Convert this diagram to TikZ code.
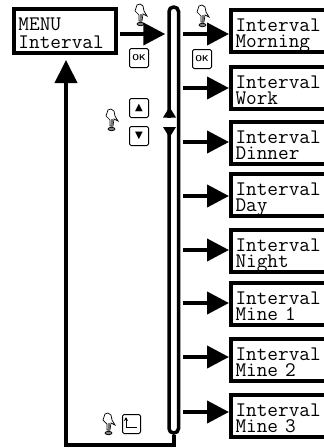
\documentclass[tikz,border=0pt]{standalone}
\usepackage{fontspec}
\newfontfamily\symfont{DejaVu Sans}
\usetikzlibrary{arrows.meta,positioning}
\tikzset{
	lcdbox/.style={draw,line width=4pt,inner xsep=4.5pt,inner ysep=0pt,minimum height=42pt,align=left,text width=91pt,font=\ttfamily\fontsize{20.7}{16}\selectfont,anchor=north west,execute at begin node={\rule{0pt}{21pt}},execute at end node={\rule[-5pt]{0pt}{5pt}}},
	feed/.style={line width=4pt,-{Triangle[length=22pt,width=22pt]}},
	keybox/.style={draw,rounded corners=1.5pt,line width=1pt,minimum width=19pt,minimum height=19pt,inner sep=0pt,anchor=north west},
	pics/hand/.style={code={
		\draw[fill=white,line width=0.7pt] (1,7)--(3,1)--(6,0)--(9,2)--(10,7)--(13,12)--(9,10)--(8,17)--(5,17)--(5,11)--cycle;
		\fill[black!55] (5.5,10)--(7.5,10)--(7.5,18)--(5.5,18)--cycle;
		\draw[fill=black!50,line width=0.7pt] (6.5,20) ellipse (3.5 and 1.7);
	}},
}
\begin{document}
\begin{tikzpicture}[x=1pt,y=-1pt]
\useasboundingbox (0,0) rectangle (324,448);
\node[lcdbox,text width=93pt,font=\ttfamily\fontsize{20.7}{18}\selectfont,execute at begin node={\rule{0pt}{20pt}},execute at end node={\rule[-4pt]{0pt}{4pt}}] (menu) at (12,7) {MENU\\Interval};
\node[draw,line width=3.5pt,rounded corners=4.5pt,minimum width=9.5pt,minimum height=426pt,inner sep=0pt] (bar) at (173.75,220) {};

% gap and heads on the bar
\fill[white] (162,117.5) rectangle (175.5,127);
\fill (169.5,107)--(176,117.5)--(163,117.5)--cycle;
\fill (169.5,137.5)--(176,127)--(163,127)--cycle;

\coordinate (menu s) at (120,34);
\draw[feed,shorten >=2pt] (menu s)--(menu s -| bar.west);

\foreach\name/\y/\ya/\lineone in {morning/8/34/Morning,work/65/88/Work,dinner/120/142/Dinner,day/172/196/Day,night/228/250/Night,mineone/281/303/Mine 1,minetwo/337/357/Mine 2,minethree/393/412/Mine 3}{
	\node[lcdbox] (\name) at (229,\y) {Interval\\\lineone};
	\coordinate (\name s) at (183,\ya);
	\draw[feed] (\name s)--(\name s -| \name.west);
}

% return path
\coordinate (low r) at (174,445);
\coordinate (low l) at (66,445);
\coordinate (menu t) at ([yshift=-5pt]menu.south -| low l);
\draw[line width=4pt,-{Triangle[length=23pt,width=22pt]}] (bar.south -| low r)--(low r)--(low l)--(menu t);

% keys
\node[keybox,font=\sffamily\bfseries\fontsize{8.5}{8}\selectfont] (ok a) at (129,48) {OK};
\node[keybox,font=\sffamily\bfseries\fontsize{8.5}{8}\selectfont] (ok b) at (192,49) {OK};
\node[keybox,font=\symfont\fontsize{10}{10}\selectfont] (key up) at (129,98) {▲};
\node[keybox,font=\symfont\fontsize{10}{10}\selectfont] (key dn) at (129,126) {▼};
\node[keybox,minimum width=18pt] (key ret) at (122,414) {};
\coordinate (ret c) at ([xshift=4pt,yshift=7pt]key ret.south west);
\draw[line width=1pt,{Stealth[length=4pt,width=4pt]}-] ([yshift=10pt]ret c)--(ret c)--([xshift=11pt]ret c);

% hands
\pic at (134,4) {hand};
\pic at (196,5) {hand};
\pic at (105,109) {hand};
\pic at (102,413) {hand};
\end{tikzpicture}
\end{document}
